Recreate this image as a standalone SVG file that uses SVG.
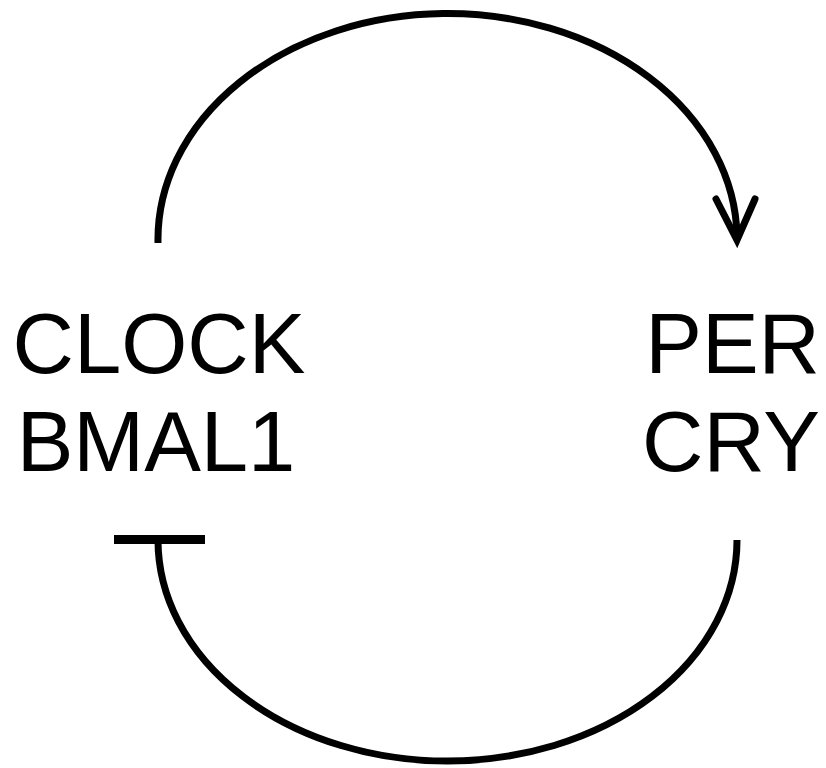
<svg xmlns="http://www.w3.org/2000/svg" width="826" height="768" viewBox="0 0 826 768">
<style>
.lbl{font-family:"Liberation Sans",Arial,sans-serif;font-size:85px;fill:#000}
.ln{fill:none;stroke:#000;stroke-width:7}
</style>
<rect width="826" height="768" fill="#fff"/>
<g id="node-clock-bmal1">
<text class="lbl" x="159" y="373" text-anchor="middle">CLOCK</text>
<text class="lbl" x="156" y="471" text-anchor="middle">BMAL1</text>
</g>
<g id="node-per-cry">
<text class="lbl" x="820" y="373" text-anchor="end">PER</text>
<text class="lbl" x="820" y="471" text-anchor="end">CRY</text>
</g>
<g id="connectors">
<path class="ln" d="M158,243 A289.5,226 0 0 1 737,236"/>
<path class="ln" d="M716,199 L737,240 L755,199" stroke-linecap="round" stroke-linejoin="miter"/>
<path class="ln" d="M737,540 A289.5,221 0 0 1 158,540"/>
<rect x="114" y="535" width="91" height="9" fill="#000"/>
</g>
</svg>
